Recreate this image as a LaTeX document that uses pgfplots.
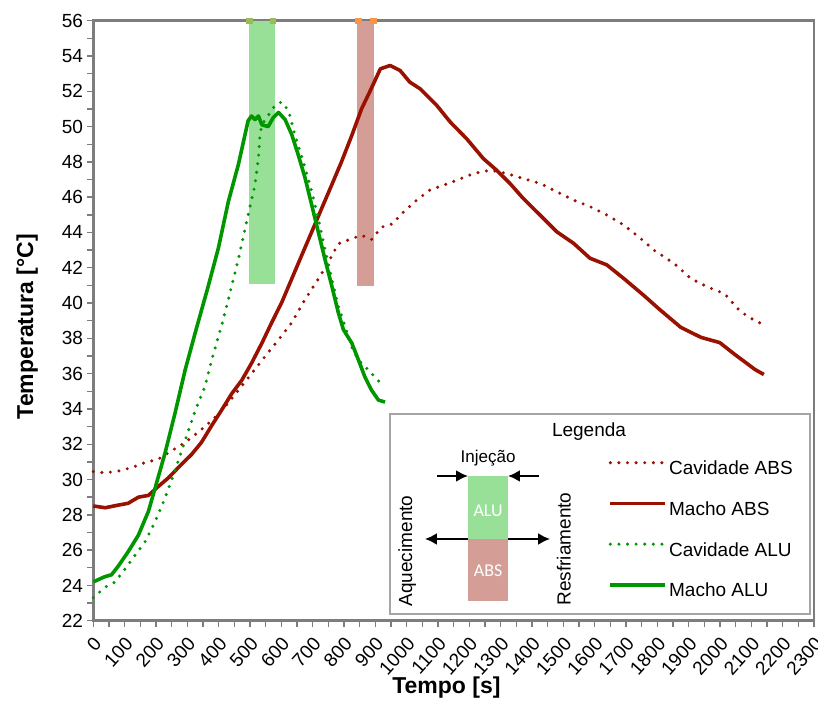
\documentclass[border=0pt]{standalone}
\usepackage{pgfplots}
\pgfplotsset{compat=1.18}
\usepackage{fontspec}
\setmainfont{Liberation Sans}
\newfontfamily\carlito{Carlito}
\usetikzlibrary{arrows.meta}
\definecolor{dred}{RGB}{153,17,0}
\definecolor{dgreen}{RGB}{0,150,0}
\definecolor{barg}{RGB}{152,224,152}
\definecolor{barr}{RGB}{212,157,150}
\definecolor{mkg}{RGB}{155,187,89}
\definecolor{mko}{RGB}{247,150,70}
\definecolor{axgray}{RGB}{125,125,125}
\definecolor{lgray}{RGB}{165,165,165}
\begin{document}
\begin{tikzpicture}
\begin{axis}[name=ax,
  scale only axis, width=360.35pt, height=300pt,
  xmin=0, xmax=2300, ymin=22, ymax=56,
  clip=false,
  axis line style={axgray, line width=1.2pt},
  xtick={0,100,...,2300}, minor x tick num=1,
  ytick={22,24,...,56}, minor y tick num=1,
  xtick pos=bottom, ytick pos=left,
  tick align=outside,
  major tick length=3pt, minor tick length=3pt,
  every tick/.style={axgray, line width=0.7pt},
  font=\fontsize{9.5}{11}\selectfont,
  /pgf/number format/assume math mode=true,
  /pgf/number format/1000 sep={},
  xticklabel style={xshift=3pt, yshift=-6pt, rotate=48, anchor=east, inner sep=1pt},
  yticklabel style={anchor=east, inner sep=2pt},
  xlabel={\textbf{Tempo [s]}},
  ylabel={\textbf{Temperatura [°C]}},
  every axis x label/.style={at={(rel axis cs:0.49,0)}, yshift=-33.5pt, anchor=center, font=\fontsize{11.5}{13}\selectfont},
  every axis y label/.style={at={(rel axis cs:0,0.49)}, xshift=-33pt, rotate=90, anchor=center, font=\fontsize{11.5}{13}\selectfont},
  legend style={draw=none, fill=none, at={(axis cs:1643,31.2)}, anchor=north west,
    inner sep=0pt, row sep=9.35pt, font=\fontsize{9.5}{11}\selectfont,
    nodes={inner sep=1pt, text height=7pt, text depth=2pt}},
  legend cell align=left,
  legend image code/.code={\draw[#1] (0pt,0.35em) -- (27.5pt,0.35em);},
]
% injection windows
\addplot[forget plot, fill=barg, draw=none] coordinates {(498,41.08) (580,41.08) (580,56) (498,56)};
\addplot[forget plot, fill=barr, draw=none] coordinates {(842,40.97) (895,40.97) (895,56) (842,56)};

% Cavidade ABS
\addplot[dred, line width=1.7pt, dash pattern=on 0pt off 4.3pt, line cap=round] coordinates {
(0,30.45) (38,30.38) (80,30.48) (122,30.67) (165,30.96) (207,31.15) (250,31.63) (293,32.1) (335,32.68) (378,33.34) (420,34.11) (463,35.06) (505,36.0) (548,36.97) (591,37.92) (633,38.88) (676,40.21) (718,41.36) (750,42.31) (782,43.36) (825,43.65) (856,43.84) (888,43.6) (920,44.3) (957,44.5) (979,44.98) (1032,45.83) (1074,46.4) (1118,46.68) (1160,46.96) (1214,47.34) (1267,47.53) (1320,47.34) (1373,47.05) (1427,46.77) (1480,46.3) (1533,45.83) (1586,45.46) (1640,44.98) (1693,44.42) (1746,43.67) (1789,43.0) (1853,42.25) (1907,41.39) (1958,40.93) (2015,40.52) (2065,39.52) (2107,39.05) (2134,38.82)
};
\addlegendentry{Cavidade ABS}
% Macho ABS
\addplot[dred, line width=1.8pt, line join=round] coordinates {
(0,28.5) (38,28.4) (80,28.55) (111,28.65) (144,29.0) (176,29.1) (207,29.6) (240,30.1) (271,30.67) (314,31.43) (345,32.1) (378,33.06) (409,33.92) (442,34.87) (474,35.63) (505,36.59) (538,37.73) (569,38.88) (601,40.02) (633,41.36) (665,42.7) (697,44.03) (729,45.37) (761,46.7) (792,48.0) (825,49.5) (856,51.0) (883,52.0) (894,52.42) (916,53.27) (947,53.46) (979,53.18) (1010,52.52) (1043,52.14) (1096,51.2) (1139,50.26) (1192,49.3) (1245,48.18) (1287,47.53) (1330,46.77) (1372,45.93) (1426,44.98) (1479,44.04) (1533,43.38) (1585,42.54) (1639,42.16) (1693,41.39) (1757,40.43) (1805,39.67) (1875,38.62) (1940,38.05) (1999,37.76) (2047,37.09) (2112,36.23) (2140,35.95)
};
\addlegendentry{Macho ABS}
% Cavidade ALU
\addplot[dgreen, line width=1.7pt, dash pattern=on 0pt off 4.3pt, line cap=round] coordinates {
(0,23.3) (38,23.9) (69,24.18) (102,24.95) (133,25.7) (165,26.47) (197,27.6) (229,28.95) (260,30.48) (293,32.2) (325,33.9) (356,35.25) (378,36.78) (409,38.7) (431,40.2) (463,42.5) (494,44.98) (516,46.7) (527,48.23) (532,49.56) (538,50.1) (553,50.5) (580,51.2) (601,51.4) (623,50.9) (643,49.56) (676,47.66) (697,46.32) (718,44.8) (739,43.08) (761,41.36) (782,39.83) (803,38.7) (825,37.5) (846,36.78) (878,36.2) (899,35.8) (923,35.35)
};
\addlegendentry{Cavidade ALU}
% Macho ALU
\addplot[dgreen, line width=1.8pt, line join=round] coordinates {
(0,24.2) (38,24.5) (58,24.6) (80,25.1) (111,25.9) (144,26.85) (176,28.2) (197,29.5) (229,31.5) (260,33.7) (293,36.2) (325,38.3) (367,40.97) (399,43.1) (431,45.75) (463,47.85) (494,50.33) (505,50.6) (516,50.4) (527,50.6) (538,50.1) (558,50.0) (574,50.5) (591,50.8) (612,50.4) (633,49.56) (654,48.4) (676,47.08) (697,45.56) (718,44.03) (739,42.5) (761,40.98) (782,39.45) (798,38.5) (825,37.73) (846,36.78) (867,35.8) (888,35.06) (910,34.5) (931,34.39)
};
\addlegendentry{Macho ALU}

% injection markers on top edge
\addplot[forget plot, only marks, mark=square*, mark size=1.3pt, mkg] coordinates {(498,56) (573,56)};
\addplot[forget plot, only marks, mark=square*, mark size=1.3pt, mko] coordinates {(846,56) (894,56)};

% legend box with explanatory sketch
\draw[lgray, line width=0.8pt, fill=white] (axis cs:947,22.38) rectangle (axis cs:2288,33.71);
\node at (axis cs:1582,32.69) {Legenda};
\node[font=\fontsize{8.5}{10}\selectfont] at (axis cs:1260,31.22) {Injeção};
\fill[barg] (axis cs:1196,30.20) rectangle (axis cs:1323,26.63);
\fill[barr] (axis cs:1196,26.63) rectangle (axis cs:1323,23.12);
\node[white, font=\carlito\fontsize{9}{10}\selectfont] at (axis cs:1260,28.25) {ALU};
\node[white, font=\carlito\fontsize{9}{10}\selectfont] at (axis cs:1260,24.83) {ABS};
\draw[line width=1.3pt, -{Latex[length=6pt,width=6pt]}] (axis cs:1097,30.20) -- (axis cs:1196,30.20);
\draw[line width=1.3pt, -{Latex[length=6pt,width=6pt]}] (axis cs:1423,30.20) -- (axis cs:1323,30.20);
\draw[line width=1.3pt, -{Latex[length=6pt,width=6pt]}] (axis cs:1196,26.63) -- (axis cs:1058,26.63);
\draw[line width=1.3pt, -{Latex[length=6pt,width=6pt]}] (axis cs:1323,26.63) -- (axis cs:1458,26.63);
\node[rotate=90] at (axis cs:1002,25.95) {Aquecimento};
\node[rotate=90] at (axis cs:1502,26.06) {Resfriamento};
\end{axis}
\pgfresetboundingbox
\path[use as bounding box] ([shift={(-46.65pt,-40.65pt)}]ax.south west) rectangle ([shift={(2pt,10.35pt)}]ax.north east);
\end{tikzpicture}
\end{document}
